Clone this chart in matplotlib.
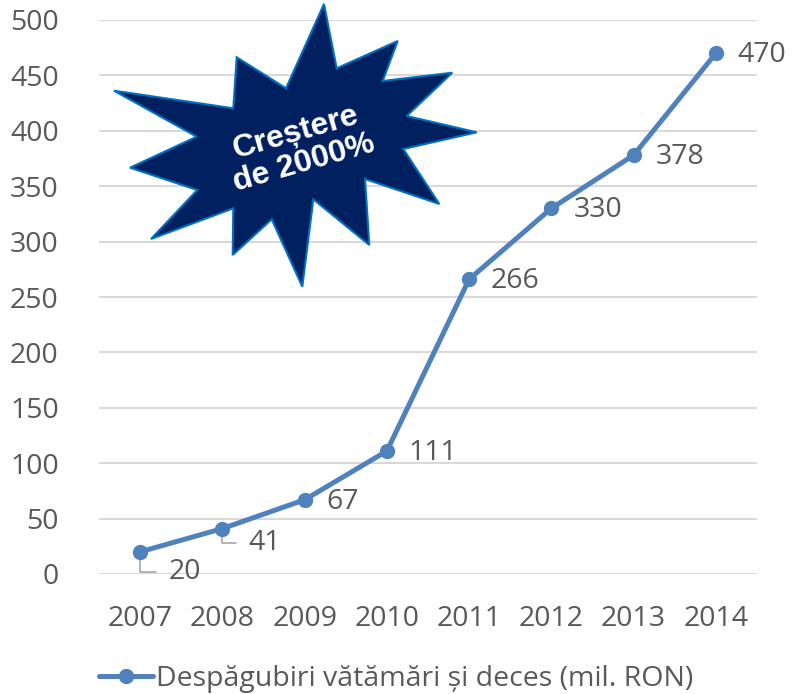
import matplotlib
matplotlib.use("Agg")
import matplotlib.pyplot as plt
from matplotlib.patches import Polygon

years = ["2007", "2008", "2009", "2010", "2011", "2012", "2013", "2014"]
values = [20, 41, 67, 111, 266, 330, 378, 470]
series_name = "Despăgubiri vătămări și deces (mil. RON)"
y_ticks = [0, 50, 100, 150, 200, 250, 300, 350, 400, 450, 500]
badge_text = "Creștere\nde 2000%"

W, H = 792, 694
plt.rcParams['font.family'] = ['Open Sans', 'DejaVu Sans']
fig = plt.figure(figsize=(W / 100, H / 100), dpi=100)
ax = fig.add_axes([99 / W, 1 - 574 / H, 658 / W, 554 / H])

TXT = '#595959'
BLUE = '#4F81BD'
FS = 20.5
x = list(range(len(years)))

ax.plot(x, values, color=BLUE, lw=3.6, marker='o', ms=10, label=series_name,
        solid_capstyle='round', zorder=3)

ax.set_xlim(-0.5, len(years) - 0.5)
ax.set_ylim(0, 500)
ax.set_yticks(y_ticks)
ax.set_xticks(x)
ax.set_xticklabels(years)
ax.tick_params(axis='both', length=0, labelsize=FS, colors=TXT)
ax.tick_params(axis='y', pad=29)
ax.tick_params(axis='x', pad=22)
for s in ax.spines.values():
    s.set_visible(False)
ax.grid(axis='y', color='#D9D9D9', lw=1.5)
ax.set_axisbelow(True)

# data labels
offsets = {0: (28, -20), 1: (26, -14)}
for i, v in enumerate(values):
    if i in offsets:
        dx, dy = offsets[i]
        ax.annotate(str(v), (i, v), xytext=(dx, dy), textcoords='offset pixels',
                    ha='left', va='center', fontsize=FS, color=TXT,
                    arrowprops=dict(arrowstyle='-', color='#A6A6A6', lw=1.2,
                                    connectionstyle='angle,angleA=0,angleB=90,rad=0',
                                    shrinkA=7, shrinkB=0), zorder=2)
    else:
        ax.annotate(str(v), (i, v), xytext=(22, -2), textcoords='offset pixels',
                    ha='left', va='center', fontsize=FS, color=TXT)

# star badge (pixel coordinates of the shape)
star_px = [(324, 4), (336.7, 68.3), (397.7, 41), (382.7, 81), (452.3, 72.7),
           (406.7, 116), (476.7, 132.3), (403.3, 149), (439.3, 204), (365, 179),
           (369.3, 245), (313.3, 199.3), (302.3, 286.7), (271.7, 219.3),
           (232.7, 255), (233.3, 208.3), (151, 239), (197.3, 190), (130, 167.7),
           (196.7, 136.7), (114, 90.7), (233.3, 108.3), (236.7, 57.3), (286, 88.3)]
star = Polygon([(px / W, 1 - py / H) for px, py in star_px], closed=True,
               transform=fig.transFigure, facecolor='#002060',
               edgecolor='#0070C0', lw=1.5, zorder=5)
fig.add_artist(star)
fig.text(300 / W, 1 - 148 / H, badge_text, ha='center', va='center',
         rotation=16, fontsize=23, fontweight='bold', color='white',
         family=['Liberation Sans', 'DejaVu Sans'], linespacing=1.05,
         rotation_mode='anchor', zorder=6)

leg = ax.legend(loc='center', bbox_to_anchor=(0.5, 1 - 679 / H),
                bbox_transform=fig.transFigure, frameon=False, fontsize=FS,
                handlelength=1.9, handletextpad=0.1, labelcolor=TXT)

fig.savefig('out.png', dpi=100)
